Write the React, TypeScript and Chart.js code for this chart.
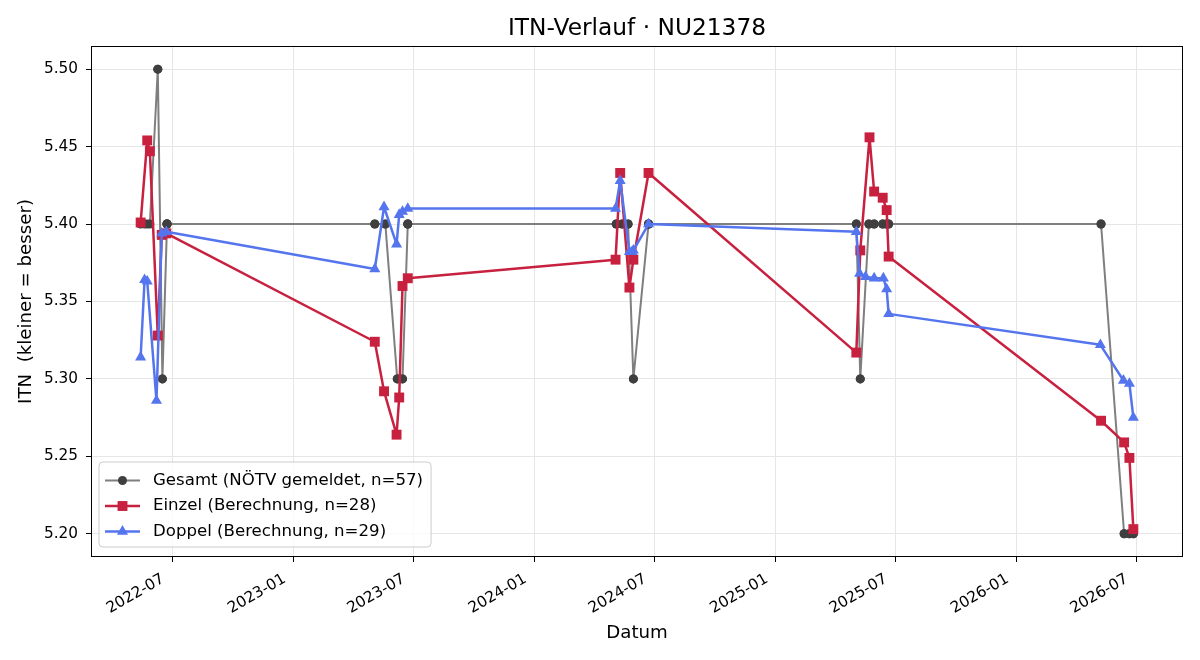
import React, { useEffect, useRef } from "react";
import { Chart, registerables } from "chart.js";

Chart.register(...registerables);

const FONT = "'DejaVu Sans', sans-serif";

// ---- Data ----
const gesamtDates = [
  "2022-05-14", "2022-05-20", "2022-05-24", "2022-05-28", "2022-06-09", "2022-06-09",
  "2022-06-16", "2022-06-16", "2022-06-23", "2022-06-23", "2022-06-23", "2022-06-23",
  "2023-05-04", "2023-05-04", "2023-05-20", "2023-05-20", "2023-06-07", "2023-06-07",
  "2023-06-11", "2023-06-15", "2023-06-15", "2023-06-23", "2023-06-23", "2023-06-23",
  "2024-05-04", "2024-05-04", "2024-05-13", "2024-05-13", "2024-05-22", "2024-05-22",
  "2024-05-30", "2024-05-30", "2024-06-22", "2024-06-22", "2024-06-22",
  "2025-05-03", "2025-05-03", "2025-05-09", "2025-05-09", "2025-05-22", "2025-05-22",
  "2025-05-30", "2025-05-30", "2025-06-12", "2025-06-12", "2025-06-18", "2025-06-18",
  "2025-06-21", "2025-06-21",
  "2026-05-09", "2026-05-09", "2026-06-13", "2026-06-13", "2026-06-21", "2026-06-21",
  "2026-06-27", "2026-06-27",
];
const gesamtValues = [
  5.40, 5.40, 5.40, 5.40, 5.50, 5.50,
  5.30, 5.30, 5.40, 5.40, 5.40, 5.40,
  5.40, 5.40, 5.40, 5.40, 5.30, 5.30,
  5.30, 5.30, 5.30, 5.40, 5.40, 5.40,
  5.40, 5.40, 5.40, 5.40, 5.40, 5.40,
  5.30, 5.30, 5.40, 5.40, 5.40,
  5.40, 5.40, 5.30, 5.30, 5.40, 5.40,
  5.40, 5.40, 5.40, 5.40, 5.40, 5.40,
  5.40, 5.40,
  5.40, 5.40, 5.20, 5.20, 5.20, 5.20,
  5.20, 5.20,
];

const einzelDates = [
  "2022-05-14", "2022-05-24", "2022-05-28", "2022-06-09", "2022-06-15", "2022-06-22",
  "2023-05-04", "2023-05-18", "2023-06-06", "2023-06-10", "2023-06-15", "2023-06-23",
  "2024-05-03", "2024-05-10", "2024-05-24", "2024-05-30", "2024-06-22",
  "2025-05-03", "2025-05-09", "2025-05-23", "2025-05-30", "2025-06-12", "2025-06-18", "2025-06-21",
  "2026-05-09", "2026-06-13", "2026-06-21", "2026-06-27",
];
const einzelValues = [
  5.401, 5.454, 5.447, 5.328, 5.393, 5.394,
  5.324, 5.292, 5.264, 5.288, 5.360, 5.365,
  5.377, 5.433, 5.359, 5.377, 5.433,
  5.317, 5.383, 5.456, 5.421, 5.417, 5.409, 5.379,
  5.273, 5.259, 5.249, 5.203,
];

const doppelDates = [
  "2022-05-14", "2022-05-20", "2022-05-24", "2022-06-07", "2022-06-15", "2022-06-22",
  "2023-05-04", "2023-05-18", "2023-06-06", "2023-06-10", "2023-06-15", "2023-06-23",
  "2024-05-03", "2024-05-10", "2024-05-24", "2024-05-28", "2024-05-30", "2024-06-22",
  "2025-05-03", "2025-05-08", "2025-05-17", "2025-05-30", "2025-06-13", "2025-06-18", "2025-06-21",
  "2026-05-08", "2026-06-12", "2026-06-21", "2026-06-27",
];
const doppelValues = [
  5.314, 5.364, 5.363, 5.286, 5.394, 5.395,
  5.371, 5.411, 5.387, 5.406, 5.408, 5.410,
  5.410, 5.428, 5.382, 5.382, 5.383, 5.400,
  5.395, 5.368, 5.366, 5.365, 5.365, 5.358, 5.342,
  5.322, 5.299, 5.297, 5.275,
];

const xTickLabels = [
  "2022-07", "2023-01", "2023-07", "2024-01", "2024-07",
  "2025-01", "2025-07", "2026-01", "2026-07",
];
const yTickValues = [5.2, 5.25, 5.3, 5.35, 5.4, 5.45, 5.5];

const seriesLabels = [
  "Gesamt (NÖTV gemeldet, n=57)",
  "Einzel (Berechnung, n=28)",
  "Doppel (Berechnung, n=29)",
];

// ---- helpers ----
const DAY = 86400000;
const toDay = (s: string) => {
  const [y, m, d] = s.split("-").map(Number);
  return Date.UTC(y, m - 1, d || 1) / DAY;
};
const toPoints = (dates: string[], values: number[]) =>
  dates.map((d, i) => ({ x: toDay(d), y: values[i] }));

const xTickValues = xTickLabels.map((l) => toDay(l + "-01"));

const allX = [...gesamtDates, ...einzelDates, ...doppelDates].map(toDay);
const allY = [...gesamtValues, ...einzelValues, ...doppelValues];
const xLo = Math.min(...allX), xHi = Math.max(...allX);
const yLo = Math.min(...allY), yHi = Math.max(...allY);
const xPad = (xHi - xLo) * 0.05, yPad = (yHi - yLo) * 0.05;

function drawMarker(ctx: CanvasRenderingContext2D, style: string, x: number, y: number, r: number) {
  ctx.beginPath();
  if (style === "circle") {
    ctx.arc(x, y, r, 0, Math.PI * 2);
  } else if (style === "rect") {
    const s = Math.SQRT1_2 * r;
    ctx.rect(x - s, y - s, 2 * s, 2 * s);
  } else {
    let a = 0;
    ctx.moveTo(x + Math.sin(a) * r, y - Math.cos(a) * r);
    a += (2 * Math.PI) / 3;
    ctx.lineTo(x + Math.sin(a) * r, y - Math.cos(a) * r);
    a += (2 * Math.PI) / 3;
    ctx.lineTo(x + Math.sin(a) * r, y - Math.cos(a) * r);
    ctx.closePath();
  }
  ctx.fill();
}

const framePlugin = {
  id: "mplFrame",
  afterDatasetsDraw(chart: any) {
    const { ctx, chartArea: a } = chart;
    ctx.save();
    ctx.strokeStyle = "#000";
    ctx.lineWidth = 1;
    ctx.strokeRect(Math.round(a.left) + 0.5, Math.round(a.top) + 0.5, Math.round(a.right - a.left) - 1, Math.round(a.bottom - a.top) - 1);
    ctx.restore();
  },
};

const legendPlugin = {
  id: "mplLegend",
  afterDraw(chart: any) {
    const { ctx, chartArea: a } = chart;
    const ds = chart.data.datasets;
    ctx.save();
    const fontSize = 16.6;
    ctx.font = `${fontSize}px ${FONT}`;
    const widths = ds.map((d: any) => ctx.measureText(d.label).width);
    const x0 = a.left + 8;
    const textX = x0 + 54;
    const w = textX - x0 + Math.max(...widths) + 8;
    const h = 85;
    const y1 = a.bottom - 10;
    const y0 = y1 - h;
    const r = 4;
    ctx.beginPath();
    ctx.moveTo(x0 + r, y0);
    ctx.lineTo(x0 + w - r, y0);
    ctx.arcTo(x0 + w, y0, x0 + w, y0 + r, r);
    ctx.lineTo(x0 + w, y0 + h - r);
    ctx.arcTo(x0 + w, y0 + h, x0 + w - r, y0 + h, r);
    ctx.lineTo(x0 + r, y0 + h);
    ctx.arcTo(x0, y0 + h, x0, y0 + h - r, r);
    ctx.lineTo(x0, y0 + r);
    ctx.arcTo(x0, y0, x0 + r, y0, r);
    ctx.closePath();
    ctx.fillStyle = "rgba(255,255,255,0.8)";
    ctx.fill();
    ctx.strokeStyle = "#cccccc";
    ctx.lineWidth = 1;
    ctx.stroke();
    ds.forEach((d: any, i: number) => {
      const y = y0 + 18.5 + i * 25.5;
      ctx.strokeStyle = d.borderColor;
      ctx.lineWidth = d.borderWidth;
      ctx.beginPath();
      ctx.moveTo(x0 + 6, y);
      ctx.lineTo(x0 + 41, y);
      ctx.stroke();
      ctx.fillStyle = d.pointBackgroundColor;
      drawMarker(ctx, d.pointStyle, x0 + 23.5, y, d.pointRadius);
      ctx.fillStyle = "#000";
      ctx.textBaseline = "middle";
      ctx.textAlign = "left";
      ctx.fillText(d.label, textX, y);
    });
    ctx.restore();
  },
};

export default function App() {
  const ref = useRef<HTMLCanvasElement>(null);

  useEffect(() => {
    const canvas = ref.current;
    if (!canvas) return;
    Chart.defaults.font.family = FONT;
    const tickFont = { family: FONT, size: 15.3 };
    const titleFont = { family: FONT, size: 18.2 };

    const chart = new Chart(canvas, {
      type: "line",
      data: {
        datasets: [
          {
            label: seriesLabels[0],
            data: toPoints(gesamtDates, gesamtValues),
            borderColor: "#7f7f7f",
            borderWidth: 2,
            pointStyle: "circle",
            pointRadius: 4.5,
            pointBorderWidth: 0,
            pointBackgroundColor: "#3f3f3f",
            pointBorderColor: "#3f3f3f",
            order: 3,
          },
          {
            label: seriesLabels[1],
            data: toPoints(einzelDates, einzelValues),
            borderColor: "#c8203f",
            borderWidth: 2.5,
            pointStyle: "rect",
            pointRadius: 7,
            pointBorderWidth: 0,
            pointBackgroundColor: "#c8203f",
            pointBorderColor: "#c8203f",
            order: 2,
          },
          {
            label: seriesLabels[2],
            data: toPoints(doppelDates, doppelValues),
            borderColor: "#5575ee",
            borderWidth: 2.5,
            pointStyle: "triangle",
            pointRadius: 6.4,
            pointBorderWidth: 0,
            pointBackgroundColor: "#5575ee",
            pointBorderColor: "#5575ee",
            order: 1,
          },
        ] as any,
      },
      options: {
        animation: false,
        responsive: false,
        devicePixelRatio: 1,
        layout: { padding: { left: 0, right: 17, top: 0, bottom: 0 } },
        elements: { line: { tension: 0, borderJoinStyle: "round" } },
        plugins: {
          legend: { display: false },
          tooltip: { enabled: false },
          title: {
            display: true,
            fullSize: false,
            text: "ITN-Verlauf · NU21378",
            color: "#000",
            font: { family: FONT, size: 23.3, weight: "normal" },
            padding: { top: 14.5, bottom: 3.5 },
          },
        },
        scales: {
          x: {
            type: "linear",
            min: xLo - xPad,
            max: xHi + xPad,
            afterBuildTicks: (s: any) => {
              s.ticks = xTickValues.map((v) => ({ value: v }));
            },
            afterFit: (s: any) => {
              s.height = 103;
            },
            ticks: {
              autoSkip: false,
              minRotation: 30,
              maxRotation: 30,
              padding: 8,
              labelOffset: -9,
              color: "#000",
              font: tickFont,
              callback: (v: any) => {
                const i = xTickValues.indexOf(Number(v));
                return i >= 0 ? xTickLabels[i] : "";
              },
            },
            grid: { color: "#e6e6e6", lineWidth: 1, tickColor: "#000", tickLength: 5, tickWidth: 1 },
            border: { display: false },
            title: { display: true, text: "Datum", color: "#000", font: titleFont, padding: { top: 0, bottom: 16 } },
          },
          y: {
            type: "linear",
            min: yLo - yPad,
            max: yHi + yPad,
            afterBuildTicks: (s: any) => {
              s.ticks = yTickValues.map((v) => ({ value: v }));
            },
            afterFit: (s: any) => {
              s.width = 91;
            },
            ticks: {
              padding: 8,
              color: "#000",
              font: tickFont,
              callback: (v: any) => Number(v).toFixed(2),
            },
            grid: { color: "#e6e6e6", lineWidth: 1, tickColor: "#000", tickLength: 5, tickWidth: 1 },
            border: { display: false },
            title: { display: true, text: "ITN  (kleiner = besser)", color: "#000", font: titleFont, padding: { top: 15, bottom: 0 } },
          },
        },
      } as any,
      plugins: [framePlugin, legendPlugin],
    });
    return () => chart.destroy();
  }, []);

  return (
    <div style={{ position: "fixed", left: 0, top: 0, width: 1200, height: 660, background: "#fff" }}>
      <canvas ref={ref} width={1200} height={660} style={{ display: "block", width: 1200, height: 660 }} />
    </div>
  );
}
